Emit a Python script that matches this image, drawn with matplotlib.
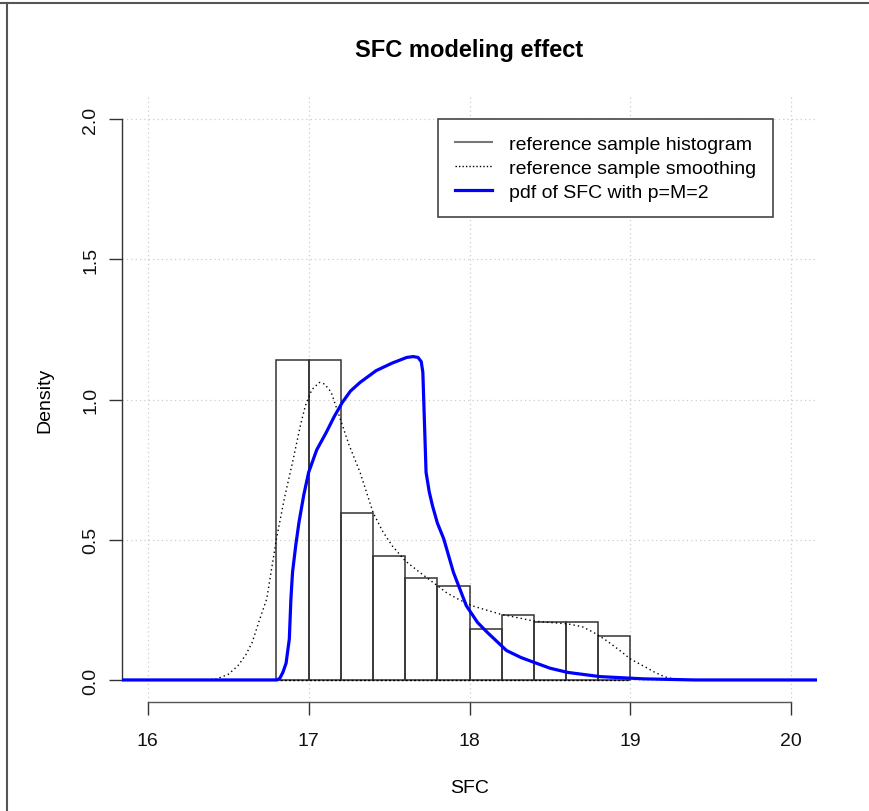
import matplotlib
matplotlib.use("Agg")
import matplotlib.pyplot as plt
from matplotlib.lines import Line2D
import numpy as np

# histogram of the reference sample (bin width 0.2)
bin_edges = [16.8, 17.0, 17.2, 17.4, 17.6, 17.8, 18.0, 18.2, 18.4, 18.6, 18.8, 19.0]
bin_counts = [44, 44, 23, 17, 14, 13, 7, 9, 8, 8, 6]

# kernel smoothing of the reference sample
smooth_x = [15.84, 16.30, 16.42, 16.50, 16.56, 16.61, 16.65, 16.69, 16.74, 16.80,
            16.85, 16.90, 16.95, 16.98, 17.02, 17.067, 17.10, 17.14, 17.19, 17.25,
            17.32, 17.40, 17.46, 17.52, 17.60, 17.69, 17.78, 17.86, 17.94, 18.02,
            18.10, 18.19, 18.30, 18.40, 18.50, 18.61, 18.70, 18.77, 18.84, 18.90,
            18.95, 19.00, 19.08, 19.15, 19.21, 19.27, 19.35, 20.16]
smooth_y = [0.0, 0.0, 0.002, 0.02, 0.05, 0.09, 0.135, 0.206, 0.29, 0.503,
            0.65, 0.776, 0.91, 0.978, 1.035, 1.061, 1.055, 1.026, 0.942, 0.84,
            0.74, 0.598, 0.53, 0.478, 0.425, 0.384, 0.345, 0.31, 0.285, 0.264,
            0.25, 0.235, 0.222, 0.21, 0.205, 0.20, 0.19, 0.17, 0.145, 0.12,
            0.098, 0.075, 0.05, 0.028, 0.012, 0.003, 0.0, 0.0]

# pdf of SFC with p=M=2
pdf_x = [15.84, 16.80, 16.82, 16.84, 16.86, 16.88, 16.89, 16.90, 16.92, 16.94,
         16.97, 17.00, 17.05, 17.11, 17.16, 17.21, 17.26, 17.32, 17.42, 17.52,
         17.61, 17.65, 17.68, 17.70, 17.71, 17.72, 17.73, 17.75, 17.77, 17.80,
         17.84, 17.90, 17.98, 18.05, 18.11, 18.23, 18.32, 18.40, 18.50, 18.61,
         18.81, 19.08, 19.40, 20.16]
pdf_y = [0.0, 0.0, 0.005, 0.027, 0.06, 0.146, 0.29, 0.384, 0.48, 0.562,
         0.66, 0.74, 0.82, 0.883, 0.94, 0.99, 1.03, 1.061, 1.103, 1.13,
         1.15, 1.153, 1.15, 1.135, 1.097, 0.918, 0.74, 0.67, 0.621, 0.56,
         0.503, 0.384, 0.265, 0.205, 0.17, 0.105, 0.08, 0.063, 0.042, 0.027,
         0.012, 0.004, 0.0, 0.0]

x_ticks = [16, 17, 18, 19, 20]
y_ticks = [0.0, 0.5, 1.0, 1.5, 2.0]

plt.rcParams['font.family'] = ['Liberation Sans', 'DejaVu Sans']

W, H = 869, 812
fig = plt.figure(figsize=(W / 100, H / 100), dpi=100)
left, right, bottom, top = 122, 817, 703.4, 97.6
ax = fig.add_axes([left / W, 1 - bottom / H, (right - left) / W, (bottom - top) / H])

# histogram as density
edges = np.array(bin_edges)
counts = np.array(bin_counts)
widths = np.diff(edges)
density = counts / (counts.sum() * widths)
ax.bar(edges[:-1], density, width=widths, align='edge', fill=False,
       edgecolor='#333333', linewidth=1.1, zorder=3)
ax.plot([edges[0], edges[-1]], [0, 0], color='black', linestyle=(0, (1.5, 1.5)),
        linewidth=1.0, zorder=3)

ax.plot(smooth_x, smooth_y, color='black', linestyle=(0, (1, 2.2)), linewidth=1.0, zorder=4)
ax.plot(pdf_x, pdf_y, color='#0000ff', linewidth=2.3, zorder=5)

ax.set_xlim(15.84, 20.16)
ax.set_ylim(-0.08, 2.08)

ax.grid(True, color='#cccccc', linestyle=(0, (1, 2.5)), linewidth=0.9)
ax.set_axisbelow(True)

# R style axes
for s in ['top', 'right']:
    ax.spines[s].set_visible(False)
ax.spines['left'].set_bounds(0, 2)
ax.spines['left'].set_color('#333333')
ax.spines['bottom'].set_bounds(16, 20)
ax.spines['bottom'].set_color('#555555')
ax.spines['left'].set_linewidth(1.0)
ax.spines['bottom'].set_linewidth(1.0)

ax.set_xticks(x_ticks)
ax.set_xticklabels([str(t) for t in x_ticks])
ax.set_yticks(y_ticks)
ax.set_yticklabels(['%.1f' % t for t in y_ticks], rotation=90, va='center')
ax.tick_params(axis='both', direction='out', length=9.4, width=1.0, color='#333333',
               labelsize=14, colors='#111111')
ax.tick_params(axis='x', pad=12)
ax.tick_params(axis='y', pad=7)

ax.set_xlabel('SFC', fontsize=14)
ax.set_ylabel('Density', fontsize=14)
ax.xaxis.set_label_coords(0.5, (bottom - 780) / (bottom - top))
ax.yaxis.set_label_coords((53 - left) / (right - left), 0.5)

fig.text((left + right) / 2 / W, 1 - 50 / H, 'SFC modeling effect', fontsize=17,
         fontweight='bold', ha='center', va='center')

handles = [
    Line2D([], [], color='#777777', linewidth=1.5),
    Line2D([], [], color='black', linestyle=(0, (1, 1.5)), linewidth=1.0),
    Line2D([], [], color='#0000ff', linewidth=2.3),
]
labels = ['reference sample histogram', 'reference sample smoothing',
          'pdf of SFC with p=M=2']
leg = ax.legend(handles, labels, loc='upper right', fontsize=14,
                bbox_to_anchor=((773 - left) / (right - left), (bottom - 120) / (bottom - top)),
                borderaxespad=0, fancybox=False, framealpha=1, edgecolor='#444444',
                handlelength=1.9, handletextpad=0.9, labelspacing=0.32,
                borderpad=0.85)
leg.get_frame().set_linewidth(1.2)

# outer frame (top and left)
fig.add_artist(Line2D([0, 1], [1 - 4 / H, 1 - 4 / H], transform=fig.transFigure,
                      color='#555555', linewidth=1.5))
fig.add_artist(Line2D([7 / W, 7 / W], [0, 1 - 4 / H], transform=fig.transFigure,
                      color='#555555', linewidth=1.5))

fig.savefig('out.png', dpi=100)
